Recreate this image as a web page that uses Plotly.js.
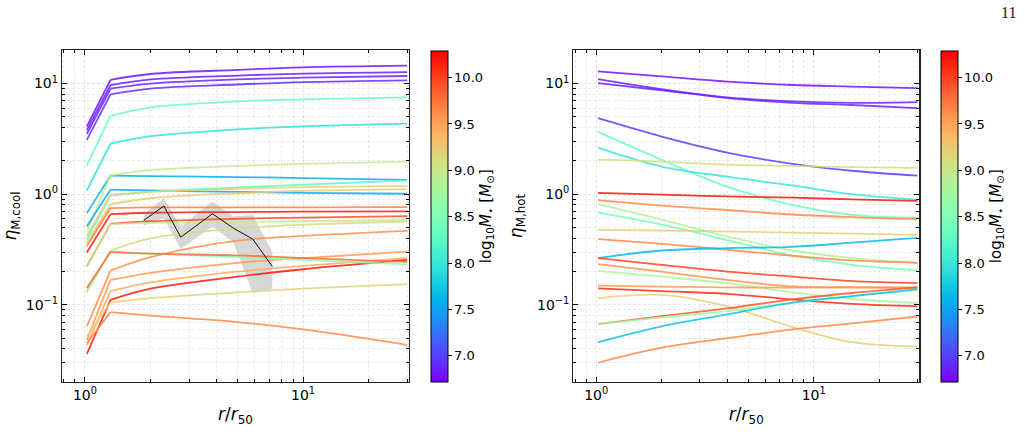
<!DOCTYPE html>
<html>
<head>
<meta charset="utf-8">
<script src="https://cdn.plot.ly/plotly-3.0.1.min.js"></script>
<style>
  html, body { margin: 0; padding: 0; background: #fff; }
  #chart { width: 1025px; height: 447px; }
</style>
</head>
<body>
<div id="chart"></div>
<script>
// ---- radial grid (r / r50) ----
const coolR = [1.02, 1.31, 2, 5, 10, 30];
const hotR  = [1.02, 2, 4, 8, 15, 30];

// ---- cool-phase mass loading: stellar mass of each galaxy and its profile ----
const coolMass = [6.80, 6.84, 6.88, 6.92, 8.35, 7.95, 7.60, 8.95, 7.55, 8.25,
                  9.20, 9.25, 9.70, 10.15, 9.95, 8.95, 9.10, 9.60, 9.55, 9.45,
                  10.20, 9.20, 9.65, 8.55, 9.80];
const coolEta = [
  [4.1, 10.8, 12.2, 13.3, 14.0, 14.5],
  [3.8, 9.7, 10.9, 11.8, 12.3, 12.7],
  [3.5, 9.0, 10.0, 10.9, 11.3, 11.7],
  [3.1, 8.0, 9.0, 9.8, 10.3, 10.7],
  [1.81, 5.1, 6.1, 6.9, 7.2, 7.5],
  [1.08, 2.87, 3.35, 3.85, 4.1, 4.35],
  [0.675, 1.47, 1.46, 1.43, 1.40, 1.35],
  [0.46, 1.48, 1.65, 1.80, 1.88, 1.97],
  [0.513, 1.10, 1.08, 1.05, 1.03, 1.01],
  [0.39, 0.97, 1.05, 1.15, 1.22, 1.33],
  [0.42, 0.99, 1.05, 1.12, 1.16, 1.19],
  [0.36, 0.81, 0.92, 1.02, 1.07, 1.11],
  [0.34, 0.75, 0.76, 0.76, 0.76, 0.765],
  [0.297, 0.66, 0.68, 0.69, 0.695, 0.70],
  [0.222, 0.54, 0.57, 0.60, 0.615, 0.635],
  [0.222, 0.535, 0.55, 0.56, 0.57, 0.585],
  [0.13, 0.31, 0.40, 0.49, 0.53, 0.567],
  [0.064, 0.204, 0.27, 0.38, 0.42, 0.467],
  [0.048, 0.168, 0.195, 0.24, 0.265, 0.303],
  [0.043, 0.133, 0.16, 0.20, 0.225, 0.265],
  [0.036, 0.111, 0.14, 0.18, 0.21, 0.255],
  [0.052, 0.105, 0.115, 0.13, 0.14, 0.154],
  [0.045, 0.086, 0.080, 0.070, 0.060, 0.0436],
  [0.135, 0.305, 0.29, 0.27, 0.255, 0.232],
  [0.142, 0.30, 0.29, 0.28, 0.265, 0.245]
];

// ---- observed cool-phase estimate with its uncertainty band ----
const obsR     = [1.86, 2.30, 2.75, 3.84, 4.79, 5.88, 7.23];
const obsEta   = [0.58, 0.783, 0.409, 0.666, 0.494, 0.393, 0.222];
const obsLower = [0.52, 0.61, 0.32, 0.51, 0.37, 0.128, 0.139];
const obsUpper = [0.66, 0.92, 0.51, 0.86, 0.63, 0.65, 0.30];

// ---- hot-phase mass loading ----
const hotMass = [6.80, 6.85, 6.88, 7.00, 8.35, 8.00, 9.05, 10.20, 9.65, 8.85,
                 8.40, 9.20, 9.65, 7.65, 10.00, 9.60, 8.80, 9.55, 10.10, 9.20,
                 9.90, 8.70, 7.70, 9.65];
const hotEta = [
  [12.9, 11.6, 10.4, 9.7, 9.4, 9.1],
  [10.96, 8.9, 7.5, 6.9, 6.7, 6.8],
  [10.1, 8.7, 7.4, 6.7, 6.4, 6.0],
  [4.86, 3.32, 2.38, 1.88, 1.63, 1.47],
  [3.66, 2.05, 1.17, 0.80, 0.65, 0.61],
  [2.64, 1.78, 1.44, 1.20, 1.00, 0.89],
  [2.05, 1.97, 1.85, 1.80, 1.76, 1.73],
  [1.03, 0.99, 0.955, 0.93, 0.90, 0.87],
  [0.885, 0.79, 0.72, 0.656, 0.62, 0.595],
  [0.815, 0.59, 0.415, 0.31, 0.265, 0.24],
  [0.684, 0.53, 0.385, 0.28, 0.23, 0.205],
  [0.477, 0.47, 0.46, 0.45, 0.44, 0.43],
  [0.393, 0.356, 0.315, 0.278, 0.252, 0.24],
  [0.265, 0.31, 0.326, 0.335, 0.365, 0.404],
  [0.265, 0.23, 0.20, 0.18, 0.164, 0.157],
  [0.234, 0.20, 0.168, 0.147, 0.145, 0.144],
  [0.203, 0.18, 0.157, 0.13, 0.113, 0.104],
  [0.149, 0.146, 0.144, 0.143, 0.143, 0.142],
  [0.141, 0.133, 0.126, 0.112, 0.102, 0.097],
  [0.115, 0.123, 0.097, 0.063, 0.046, 0.042],
  [0.067, 0.079, 0.093, 0.112, 0.128, 0.144],
  [0.067, 0.077, 0.088, 0.105, 0.12, 0.135],
  [0.046, 0.064, 0.082, 0.105, 0.12, 0.139],
  [0.030, 0.041, 0.050, 0.060, 0.068, 0.0785]
];

// ---- ticks ----
const xTickVals = [1, 10];
const xTickText = ['10<sup>0</sup>', '10<sup>1</sup>'];
const xMinorVals = [0.8, 0.9, 2, 3, 4, 5, 6, 7, 8, 9, 20, 30];
const yTickVals = [0.1, 1, 10];
const yTickText = ['10<sup>\u22121</sup>', '10<sup>0</sup>', '10<sup>1</sup>'];
const yMinorVals = [0.03, 0.04, 0.05, 0.06, 0.07, 0.08, 0.09,
                    0.2, 0.3, 0.4, 0.5, 0.6, 0.7, 0.8, 0.9,
                    2, 3, 4, 5, 6, 7, 8, 9, 20];
const cbTickVals = [7.0, 7.5, 8.0, 8.5, 9.0, 9.5, 10.0];
const cbTickText = ['7.0', '7.5', '8.0', '8.5', '9.0', '9.5', '10.0'];

const massMin = 6.72, massMax = 10.29;

// matplotlib-style "rainbow" colour map
function rainbow(t) {
  t = Math.min(1, Math.max(0, t));
  const r = Math.min(1, Math.abs(2 * t - 0.5));
  const g = Math.sin(Math.PI * t);
  const b = Math.cos(Math.PI * t / 2);
  return 'rgb(' + Math.round(r * 255) + ',' + Math.round(g * 255) + ',' + Math.round(b * 255) + ')';
}
const rainbowScale = [];
for (let i = 0; i <= 32; i++) rainbowScale.push([i / 32, rainbow(i / 32)]);
const massColor = m => rainbow((m - massMin) / (massMax - massMin));

const FONT = 'DejaVu Sans, sans-serif';
const traces = [];

// uncertainty band (drawn first so the curves sit on top)
traces.push({ x: obsR, y: obsLower, xaxis: 'x', yaxis: 'y', mode: 'lines',
  line: { width: 0, color: 'rgba(0,0,0,0)' }, hoverinfo: 'skip', showlegend: false });
traces.push({ x: obsR, y: obsUpper, xaxis: 'x', yaxis: 'y', mode: 'lines',
  fill: 'tonexty', fillcolor: 'rgba(200,200,200,0.72)',
  line: { width: 0, color: 'rgba(0,0,0,0)' }, hoverinfo: 'skip', showlegend: false });

// each cool profile: a straight inner segment up to the break, then a smooth outer part
coolEta.forEach((row, i) => {
  const col = massColor(coolMass[i]);
  traces.push({
    x: coolR.slice(0, 2), y: row.slice(0, 2), xaxis: 'x', yaxis: 'y', mode: 'lines',
    opacity: 0.85, line: { color: col, width: 1.8 }, showlegend: false
  });
  traces.push({
    x: coolR.slice(1), y: row.slice(1), xaxis: 'x', yaxis: 'y', mode: 'lines',
    opacity: 0.85, line: { color: col, width: 1.8, shape: 'spline', smoothing: 1 },
    showlegend: false
  });
});

traces.push({ x: obsR, y: obsEta, xaxis: 'x', yaxis: 'y', mode: 'lines',
  line: { color: '#111', width: 1 }, showlegend: false });

hotEta.forEach((row, i) => traces.push({
  x: hotR, y: row, xaxis: 'x2', yaxis: 'y2', mode: 'lines', opacity: 0.85,
  line: { color: massColor(hotMass[i]), width: 1.8, shape: 'spline', smoothing: 1 },
  showlegend: false
}));

// colour bars keyed on stellar mass
function colorbarTrace(xa, ya, xPos, masses, firstR, firstEta) {
  return {
    x: [firstR], y: [firstEta], xaxis: xa, yaxis: ya, mode: 'markers', hoverinfo: 'skip',
    showlegend: false,
    marker: {
      size: 1, opacity: 0, color: [masses[0]], cmin: massMin, cmax: massMax,
      colorscale: rainbowScale, showscale: true,
      colorbar: {
        x: xPos, xanchor: 'left', y: 1 - 50.7 / 447, yanchor: 'top',
        len: 331.3 / 447, lenmode: 'fraction', thickness: 17, thicknessmode: 'pixels',
        xpad: 0, ypad: 0, outlinewidth: 1, outlinecolor: '#000',
        tickmode: 'array', tickvals: cbTickVals, ticktext: cbTickText,
        ticks: 'outside', ticklen: 3.5, tickwidth: 1, tickcolor: '#000',
        tickfont: { family: FONT, size: 13, color: '#000' },
        title: { text: 'log<sub>10</sub><i>M</i><sub>\u22c6</sub> [<i>M</i><sub>\u2299</sub>]',
                 side: 'right', font: { family: FONT, size: 15, color: '#000' } }
      }
    }
  };
}
traces.push(colorbarTrace('x', 'y', 430.7 / 1025, coolMass, coolR[0], coolEta[0][0]));
traces.push(colorbarTrace('x2', 'y2', 941 / 1025, hotMass, hotR[0], hotEta[0][0]));

const gridCol = 'rgba(0,0,0,0.1)';
const gridDash = '3px,2px';
function xAxis(domain, anchor) {
  return {
    type: 'log', domain: domain, anchor: anchor,
    range: [Math.log10(0.785), Math.log10(30.6)],
    tickmode: 'array', tickvals: xTickVals, ticktext: xTickText,
    ticks: 'inside', ticklen: 5, tickwidth: 1, tickcolor: '#000',
    showline: true, linecolor: '#222', linewidth: 1.2, mirror: 'allticks',
    showgrid: true, gridcolor: gridCol, griddash: gridDash, gridwidth: 1,
    zeroline: false,
    minor: { tickmode: 'array', tickvals: xMinorVals, ticks: 'inside', ticklen: 3,
             tickcolor: '#000', showgrid: true, gridcolor: gridCol, griddash: gridDash, gridwidth: 0.8 },
    tickfont: { family: FONT, size: 14, color: '#000' },
    title: { text: '<i>r</i>/<i>r</i><sub>50</sub>', standoff: 6,
             font: { family: FONT, size: 17, color: '#000' } }
  };
}
function yAxis(domain, anchor, label) {
  return {
    type: 'log', domain: domain, anchor: anchor,
    range: [Math.log10(0.0201), Math.log10(20.1)],
    tickmode: 'array', tickvals: yTickVals, ticktext: yTickText,
    ticks: 'inside', ticklen: 5, tickwidth: 1, tickcolor: '#000',
    showline: true, linecolor: '#222', linewidth: 1.2, mirror: 'allticks',
    showgrid: true, gridcolor: gridCol, griddash: gridDash, gridwidth: 1,
    zeroline: false,
    minor: { tickmode: 'array', tickvals: yMinorVals, ticks: 'inside', ticklen: 3,
             tickcolor: '#000', showgrid: true, gridcolor: gridCol, griddash: gridDash, gridwidth: 0.8 },
    tickfont: { family: FONT, size: 14, color: '#000' },
    title: { text: label, standoff: 10, font: { family: FONT, size: 17, color: '#000' } }
  };
}

const yDomain = [1 - 382 / 447, 1 - 50 / 447];
const layout = {
  width: 1025, height: 447,
  margin: { l: 0, r: 0, t: 0, b: 0 },
  paper_bgcolor: '#fff', plot_bgcolor: '#fff',
  showlegend: false,
  xaxis: xAxis([62 / 1025, 409 / 1025], 'y'),
  yaxis: yAxis(yDomain, 'x', '<i>\u03b7</i><sub>M,cool</sub>'),
  xaxis2: xAxis([573.3 / 1025, 919.3 / 1025], 'y2'),
  yaxis2: yAxis(yDomain, 'x2', '<i>\u03b7</i><sub>M,hot</sub>'),
  annotations: [{
    text: '11', xref: 'paper', yref: 'paper', x: 1008 / 1025, y: 1 - 13 / 447,
    xanchor: 'center', yanchor: 'middle', showarrow: false,
    font: { family: 'Liberation Serif, serif', size: 16, color: '#222' }
  }]
};

Plotly.newPlot('chart', traces, layout, { staticPlot: true, displayModeBar: false });
</script>
</body>
</html>
